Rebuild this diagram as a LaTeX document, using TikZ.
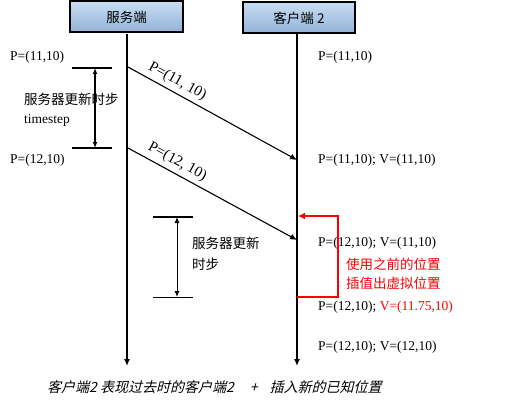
\documentclass[tikz,border=0pt]{standalone}
\usepackage{fontspec}
\setmainfont{Liberation Serif}
\newfontfamily\cjk{Noto Sans CJK SC}
\newfontfamily\cjkit{Noto Sans CJK SC}[FakeSlant=0.25]
\usetikzlibrary{arrows.meta}
\definecolor{boxtop}{HTML}{C8DCF2}
\definecolor{boxbot}{HTML}{93B2D8}
\definecolor{redc}{HTML}{FF0000}
\begin{document}
\begin{tikzpicture}[x=1pt,y=-1pt,
  hdr/.style={draw=black,line width=2pt,top color=boxtop,bottom color=boxbot,
    minimum width=#1,minimum height=31pt,inner sep=0pt,font=\cjk\fontsize{13.5}{16}\selectfont},
  lbl/.style={anchor=west,inner sep=0pt,font=\fontsize{13.5}{16}\selectfont},
  cjklbl/.style={anchor=west,inner sep=0pt,font=\cjk\fontsize{13.5}{16}\selectfont},
  life/.style={line width=2.2pt,-{Latex[length=7pt,width=6pt]}},
  msg/.style={line width=1.1pt,-{Latex[length=7pt,width=6pt]}},
  tick/.style={line width=1.6pt},
  span/.style={line width=#1,{Latex[length=6pt,width=5pt]}-{Latex[length=6pt,width=5pt]}},
  mlbl/.style={sloped,above=3pt,inner sep=1pt,font=\fontsize{15}{17}\selectfont},
  redline/.style={draw=redc,line width=2pt},
]
\useasboundingbox (0,0) rectangle (510,409);
% header boxes
\node[hdr=113pt] (srv) at (126.5,17) {服务端};
\node[hdr=112pt] (cli) at (299,18) {客户端 2};
% lifelines
\coordinate (s0) at (127,34);
\coordinate (s1) at (127,366);
\coordinate (c0) at (297,34);
\coordinate (c1) at (297,366);
\draw[life] (s0) -- (s1);
\draw[life] (c0) -- (c1);
% server texts
\node[lbl] (sp1) at (10,57) {P=(11,10)};
\node[lbl] (sp2) at (10,160) {P=(12,10)};
\node[cjklbl] (st1) at (24,99) {服务器更新时步};
\node[lbl] (st2) at (24,120) {timestep};
% first bracket
\coordinate (b1l) at (72,68); \coordinate (b1r) at (112,68);
\coordinate (b2l) at (72,148); \coordinate (b2r) at (112,148);
\coordinate (b1m) at (95,68); \coordinate (b2m) at (95,148);
\draw[tick] (b1l) -- (b1r);
\draw[tick] (b2l) -- (b2r);
\draw[span=1.8pt] (b1m) -- (b2m);
% messages
\coordinate (m1a) at (128,67); \coordinate (m1b) at (297,160);
\coordinate (m2a) at (128,148); \coordinate (m2b) at (297,240);
\draw[msg] (m1a) -- node[mlbl,pos=0.26] (ml1) {P=(11, 10)} (m1b);
\draw[msg] (m2a) -- node[mlbl,pos=0.26] (ml2) {P=(12, 10)} (m2b);
% second bracket
\coordinate (d1l) at (153,217); \coordinate (d1r) at (193,217);
\coordinate (d2l) at (153,297); \coordinate (d2r) at (193,297);
\coordinate (d1m) at (177,217); \coordinate (d2m) at (177,297);
\draw[line width=1.8pt] (d1l) -- (d1r);
\draw[line width=1pt] (d2l) -- (d2r);
\draw[span=1pt] (d1m) -- (d2m);
\node[cjklbl] (sd1) at (192,243) {服务器更新};
\node[cjklbl] (sd2) at (192,264) {时步};
% client texts
\node[lbl] (cp1) at (318,57) {P=(11,10)};
\node[lbl] (cp2) at (318,160) {P=(11,10); V=(11,10)};
\node[lbl] (cp3) at (318,243) {P=(12,10); V=(11,10)};
\node[lbl] (cp4) at (318,307) {P=(12,10); \textcolor{redc}{V=(11.75,10)}};
\node[lbl] (cp5) at (318,347) {P=(12,10); V=(12,10)};
% red interpolation loop
\coordinate (r0) at (297,297);
\coordinate (r1) at (338,297);
\coordinate (r2) at (338,216);
\coordinate (r3) at (298,216);
\draw[redline,-{Latex[length=7pt,width=7pt]}] (r0) -- (r1) -- (r2) -- (r3);
\node[cjklbl,text=redc] (rt1) at (346,264) {使用之前的位置};
\node[cjklbl,text=redc] (rt2) at (346,283) {插值出虚拟位置};
% caption
\node[anchor=west,inner sep=0pt,font=\cjkit\fontsize{14}{16}\selectfont] (cap) at (47,387) {客户端2 表现过去时的客户端2\hspace{16pt}+\hspace{12pt}插入新的已知位置};
\end{tikzpicture}
\end{document}
